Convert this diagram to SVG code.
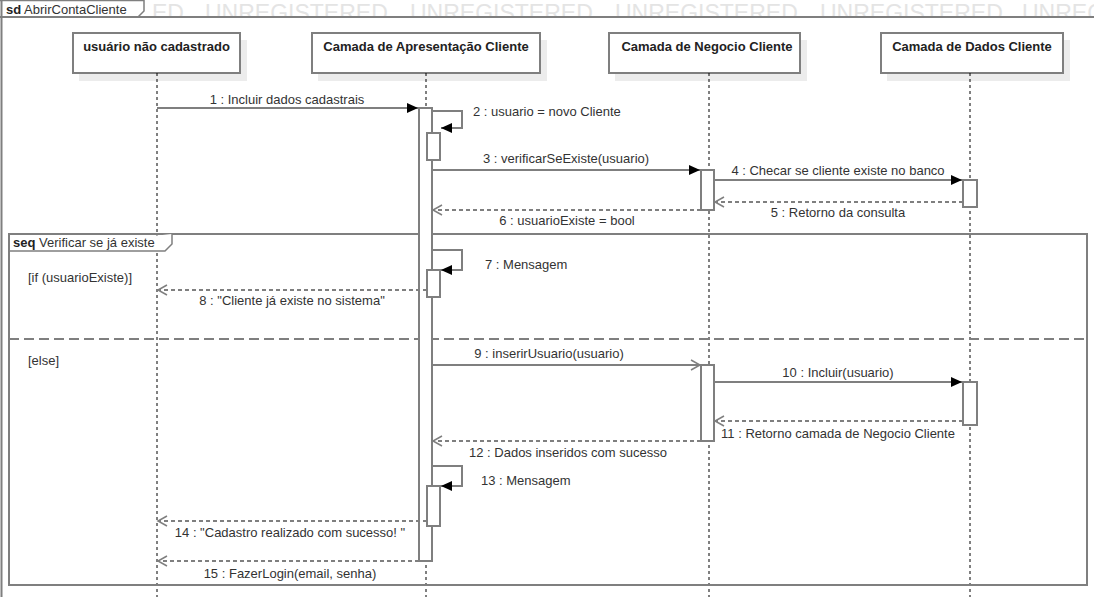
<svg xmlns="http://www.w3.org/2000/svg" width="1094" height="597" viewBox="0 0 1094 597">
<defs>
<style>
text{font-family:"Liberation Sans",Arial,sans-serif;font-size:13px;fill:#333}
.b{font-weight:bold;fill:#222}
.wm{font-size:23px;fill:#e4e4e4}
.frame{fill:none;stroke:#7f7f7f;stroke-width:2}
.head{fill:#fff;stroke:#7f7f7f;stroke-width:2}
.shadow{fill:#ececec}
.life{stroke:#000;stroke-width:1;stroke-dasharray:3,3}
.act{fill:#fff;stroke:#7f7f7f;stroke-width:2}
.msg{fill:none;stroke:#7f7f7f;stroke-width:2}
.ret{fill:none;stroke:#7f7f7f;stroke-width:2;stroke-dasharray:4,3}
.sep{fill:none;stroke:#7f7f7f;stroke-width:2;stroke-dasharray:10,5}
</style>
<marker id="fill" markerWidth="12" markerHeight="10" refX="11" refY="5" orient="auto" markerUnits="userSpaceOnUse">
<path d="M0,0 L11,5 L0,10 Z" fill="#000"/>
</marker>
<marker id="open" markerWidth="12" markerHeight="12" refX="10" refY="6" orient="auto" markerUnits="userSpaceOnUse">
<path d="M1,1 L10,6 L1,11" fill="none" stroke="#7f7f7f" stroke-width="1.5"/>
</marker>
<clipPath id="hdr"><rect x="0" y="0" width="1094" height="17"/></clipPath>
</defs>
<rect width="1094" height="597" fill="#fff"/>

<g id="watermark" clip-path="url(#hdr)">
<text class="wm" x="152" y="21">ED</text>
<text class="wm" x="205" y="21">UNREGISTERED</text>
<text class="wm" x="410" y="21">UNREGISTERED</text>
<text class="wm" x="615" y="21">UNREGISTERED</text>
<text class="wm" x="820" y="21">UNREGISTERED</text>
<text class="wm" x="1022" y="21">UNREGIS</text>
</g>

<g id="frame-sd">
<path d="M0,0.5 H144 V11 L138,17" fill="#fff" stroke="#7f7f7f" stroke-width="1.5"/>
<line x1="0" y1="17" x2="1094" y2="17" stroke="#7f7f7f" stroke-width="2"/>
<line x1="1.5" y1="0" x2="1.5" y2="597" stroke="#7f7f7f" stroke-width="2"/>
<text x="6" y="14"><tspan class="b">sd</tspan> AbrirContaCliente</text>
</g>

<g id="lifeline-usuario">
<rect class="shadow" x="79" y="40" width="168" height="41"/>
<rect class="head" x="73" y="33" width="167" height="40"/>
<text class="b" x="156.5" y="51" text-anchor="middle">usuário não cadastrado</text>
<line class="life" x1="157" y1="73" x2="157" y2="597"/>
</g>
<g id="lifeline-apresentacao">
<rect class="shadow" x="318" y="40" width="229" height="41"/>
<rect class="head" x="312" y="33" width="228" height="40"/>
<text class="b" x="426" y="51" text-anchor="middle">Camada de Apresentação Cliente</text>
<line class="life" x1="426" y1="73" x2="426" y2="597"/>
</g>
<g id="lifeline-negocio">
<rect class="shadow" x="615" y="40" width="192" height="41"/>
<rect class="head" x="609" y="33" width="191" height="40"/>
<text class="b" x="707" y="51" text-anchor="middle">Camada de Negocio Cliente</text>
<line class="life" x1="709" y1="73" x2="709" y2="597"/>
</g>
<g id="lifeline-dados">
<rect class="shadow" x="887" y="40" width="183" height="41"/>
<rect class="head" x="881" y="33" width="182" height="40"/>
<text class="b" x="972" y="51" text-anchor="middle">Camada de Dados Cliente</text>
<line class="life" x1="970" y1="73" x2="970" y2="597"/>
</g>

<g id="frame-seq">
<rect class="frame" x="9" y="234" width="1078" height="351"/>
<path d="M9,251 H165 L172,244 V234" fill="#fff" stroke="#7f7f7f" stroke-width="1.5"/>
<text x="13" y="247"><tspan class="b">seq</tspan> Verificar se já existe</text>
<line class="sep" x1="9" y1="339" x2="1087" y2="339"/>
<text x="28" y="282">[if (usuarioExiste)]</text>
<text x="28" y="365">[else]</text>
</g>

<g id="activations">
<rect class="act" x="419" y="108" width="13" height="453"/>
<rect class="act" x="427" y="133" width="13" height="27"/>
<rect class="act" x="427" y="270" width="13" height="27"/>
<rect class="act" x="427" y="486" width="13" height="40"/>
<rect class="act" x="701" y="170" width="13" height="40"/>
<rect class="act" x="701" y="365" width="13" height="76"/>
<rect class="act" x="963" y="180" width="14" height="27"/>
<rect class="act" x="963" y="382" width="14" height="43"/>
</g>

<g id="connectors">
<line class="msg" x1="157" y1="108" x2="418" y2="108" marker-end="url(#fill)"/>
<path class="msg" d="M432,111 H462 V128 H441" marker-end="url(#fill)"/>
<line class="msg" x1="432" y1="170" x2="700" y2="170" marker-end="url(#fill)"/>
<line class="msg" x1="714" y1="180" x2="962" y2="180" marker-end="url(#fill)"/>
<line class="ret" x1="963" y1="202" x2="715" y2="202" marker-end="url(#open)"/>
<line class="ret" x1="701" y1="210" x2="433" y2="210" marker-end="url(#open)"/>
<path class="msg" d="M432,250 H462 V270 H441" marker-end="url(#fill)"/>
<line class="ret" x1="427" y1="290" x2="158" y2="290" marker-end="url(#open)"/>
<line class="msg" x1="432" y1="365" x2="700" y2="365" marker-end="url(#open)"/>
<line class="msg" x1="714" y1="382" x2="962" y2="382" marker-end="url(#fill)"/>
<line class="ret" x1="963" y1="421" x2="715" y2="421" marker-end="url(#open)"/>
<line class="ret" x1="701" y1="441" x2="433" y2="441" marker-end="url(#open)"/>
<path class="msg" d="M432,466 H462 V486 H441" marker-end="url(#fill)"/>
<line class="ret" x1="427" y1="521" x2="158" y2="521" marker-end="url(#open)"/>
<line class="ret" x1="419" y1="561" x2="158" y2="561" marker-end="url(#open)"/>
</g>

<g id="labels">
<text x="287" y="104" text-anchor="middle">1 : Incluir dados cadastrais</text>
<text x="473" y="116">2 : usuario = novo Cliente</text>
<text x="566" y="163" text-anchor="middle">3 : verificarSeExiste(usuario)</text>
<text x="838" y="175" text-anchor="middle">4 : Checar se cliente existe no banco</text>
<text x="838" y="217" text-anchor="middle">5 : Retorno da consulta</text>
<text x="567" y="225" text-anchor="middle">6 : usuarioExiste = bool</text>
<text x="485" y="269">7 : Mensagem</text>
<text x="292" y="305" text-anchor="middle">8 : "Cliente já existe no sistema"</text>
<text x="549" y="358" text-anchor="middle">9 : inserirUsuario(usuario)</text>
<text x="838" y="377" text-anchor="middle">10 : Incluir(usuario)</text>
<text x="838" y="438" text-anchor="middle">11 : Retorno camada de Negocio Cliente</text>
<text x="568" y="457" text-anchor="middle">12 : Dados inseridos com sucesso</text>
<text x="481" y="485">13 : Mensagem</text>
<text x="290" y="537" text-anchor="middle">14 : "Cadastro realizado com sucesso! "</text>
<text x="290" y="578" text-anchor="middle">15 : FazerLogin(email, senha)</text>
</g>
</svg>
